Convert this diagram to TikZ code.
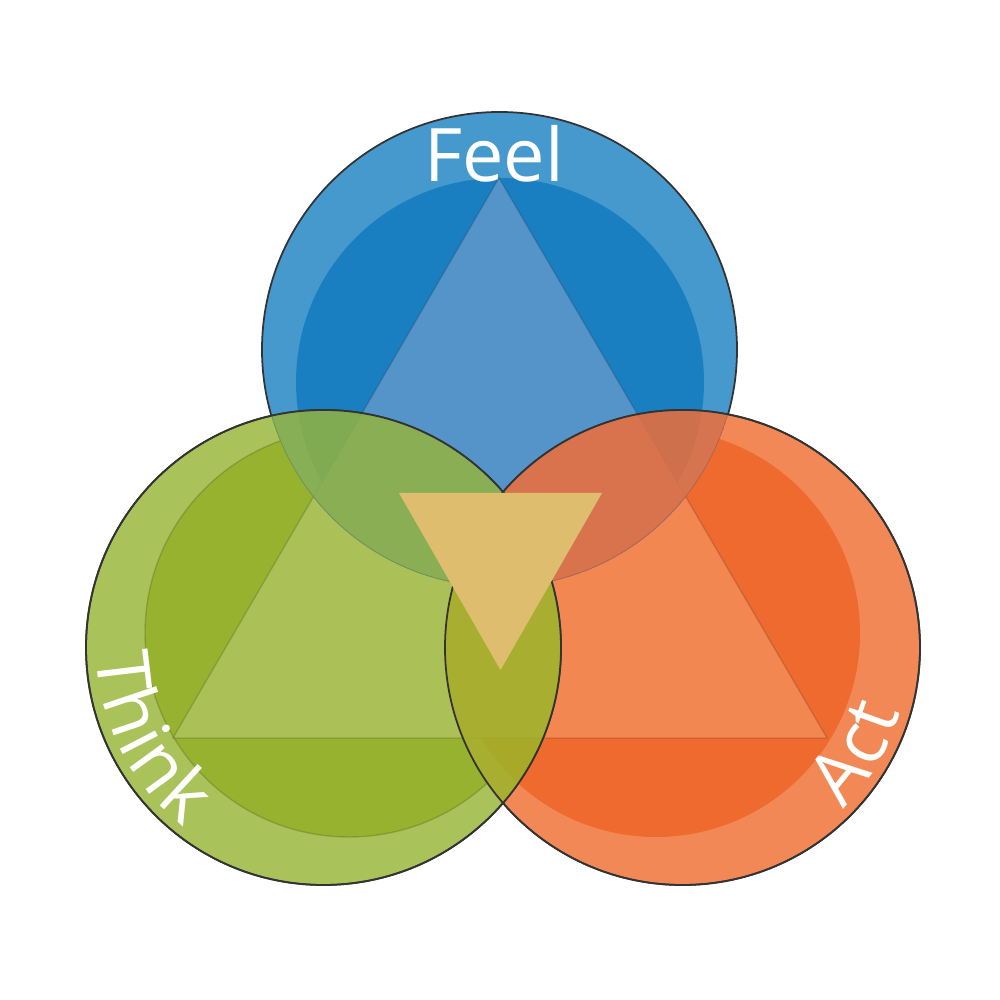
\documentclass[tikz,border=0pt]{standalone}
\usepackage{fontspec}
\newfontfamily\labelfont{Open Sans}
\newcommand\lbl{\labelfont\fontsize{21pt}{25pt}\selectfont}
\usetikzlibrary{decorations.text}

\definecolor{feelring}{HTML}{4599CD}
\definecolor{feelcore}{HTML}{1A7FC1}
\definecolor{feeltri}{HTML}{5594C9}
\definecolor{thinkring}{HTML}{AAC25A}
\definecolor{thinkcore}{HTML}{97B22E}
\definecolor{thinktri}{HTML}{ABC157}
\definecolor{actring}{HTML}{F38857}
\definecolor{actcore}{HTML}{EE6A2F}
\definecolor{acttri}{HTML}{F38752}
\definecolor{lensgb}{HTML}{93B340}
\definecolor{lensob}{HTML}{EF6E38}
\definecolor{lensgo}{HTML}{9CB529}
\definecolor{hubtri}{HTML}{DFBD6E}

\begin{document}
\begin{tikzpicture}[x=0.01cm,y=0.01cm,
  rim/.style={draw=black!80,line width=0.5pt},
  seam/.style={draw=black,draw opacity=0.15,line width=0.4pt},
  lens/.style={fill opacity=0.85},
  label/.style={font=\lbl,text=white}]

  \useasboundingbox (0,0) rectangle (1000,1000);

  \coordinate (feel) at (499.5,650.5);
  \coordinate (feel-core) at (500,618);
  \coordinate (act) at (682.5,352.5);
  \coordinate (act-core) at (656,367);
  \coordinate (think) at (323.5,352.5);
  \coordinate (think-core) at (349,367);
  \coordinate (top) at (499,822);
  \coordinate (left) at (173,262);
  \coordinate (right) at (827,262);

  % the three circles, each with its core and triangle
  \foreach \c in {feel,act,think} {
    \fill[fill=\c ring] (\c) circle (237.5);
    \fill[fill=\c core] (\c-core) circle (204);
    \begin{scope}
      \clip (\c) circle (237.5);
      \filldraw[fill=\c tri, seam] (top) -- (left) -- (right) -- cycle;
    \end{scope}
    \draw[rim] (\c) circle (237.5);
  }
  \draw[seam] (think-core) circle (204);

  % overlaps
  \begin{scope}
    \clip (think) circle (237.5);
    \clip (feel) circle (237.5);
    \fill[feelring] (feel) circle (237.5);
    \fill[feelcore] (feel-core) circle (204);
    \filldraw[fill=feeltri, seam] (top) -- (left) -- (right) -- cycle;
    \fill[lensgb, lens] (feel) circle (237.5);
    \draw[seam] (feel) circle (237.5);
  \end{scope}
  \begin{scope}
    \clip (act) circle (237.5);
    \clip (feel) circle (237.5);
    \fill[feelring] (feel) circle (237.5);
    \fill[feelcore] (feel-core) circle (204);
    \filldraw[fill=feeltri, seam] (top) -- (left) -- (right) -- cycle;
    \fill[lensob, lens] (feel) circle (237.5);
    \draw[seam] (feel) circle (237.5);
  \end{scope}
  \begin{scope}
    \clip (think) circle (237.5);
    \clip (act) circle (237.5);
    \fill[actring] (act) circle (237.5);
    \fill[actcore] (act-core) circle (204);
    \filldraw[fill=acttri, seam] (top) -- (left) -- (right) -- cycle;
    \fill[lensgo, lens] (act) circle (237.5);
    \draw[seam] (act) circle (237.5);
  \end{scope}
  \draw[rim] (act) circle (237.5);
  \draw[rim] (think) circle (237.5);

  % inverted triangle in the middle
  \coordinate (hub-left) at (399,507);
  \coordinate (hub-right) at (602,507);
  \coordinate (hub-tip) at (500.5,330);
  \fill[hubtri] (hub-left) -- (hub-right) -- (hub-tip) -- cycle;

  % labels
  \node[label, anchor=base] (feel-label) at (494,818) {Feel};
  \path[decorate, decoration={text along path, text={|\lbl|Think},
      text align=center, text color=white, raise=-0.17cm}]
    ([shift={(think)}]162:210) arc[start angle=162, end angle=252, radius=210];
  \path[decorate, decoration={text along path, text={|\lbl|Act},
      text align=center, text color=white, raise=-0.17cm}]
    ([shift={(act)}]-61:210) arc[start angle=-61, end angle=-1, radius=210];
\end{tikzpicture}
\end{document}
